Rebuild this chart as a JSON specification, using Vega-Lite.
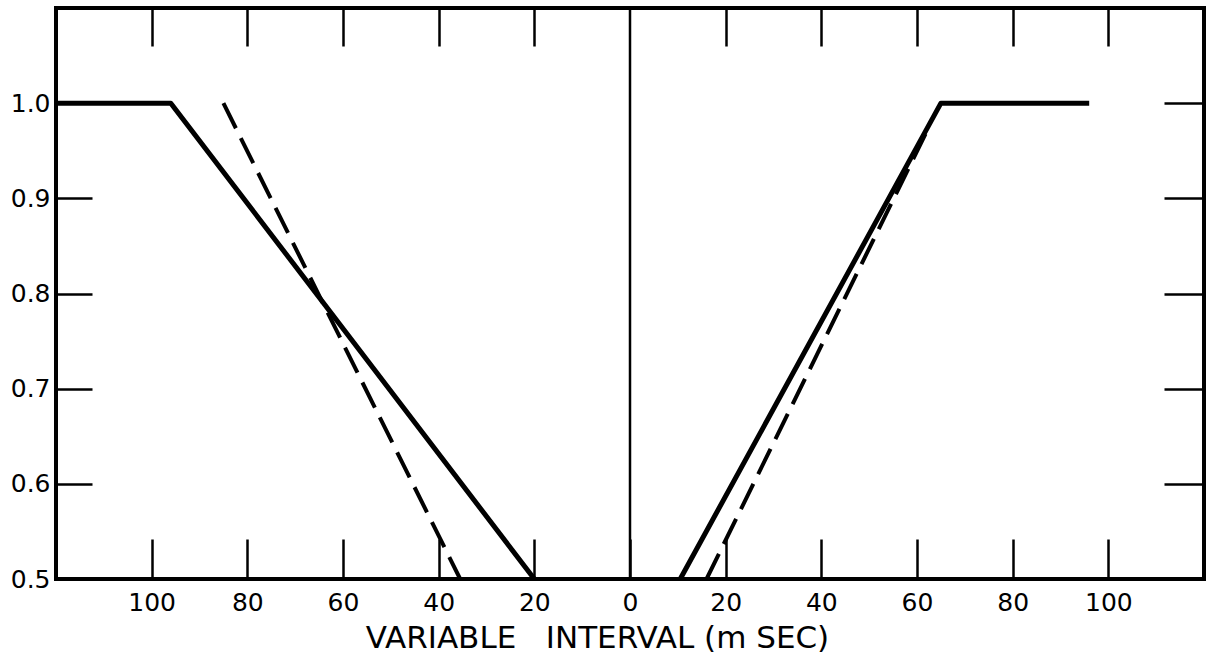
{
  "$schema": "https://vega.github.io/schema/vega-lite/v6.json",
  "width": 1148,
  "height": 571,
  "autosize": {"type": "none"},
  "padding": {"left": 56, "top": 8, "right": 12, "bottom": 76},
  "background": "white",
  "config": {
    "view": {"stroke": "black", "strokeWidth": 4},
    "axis": {
      "grid": false,
      "domain": false,
      "tickColor": "black",
      "tickWidth": 2.5,
      "labelFont": "DejaVu Sans",
      "labelFontSize": 25,
      "labelColor": "black",
      "titleFont": "DejaVu Sans",
      "titleFontSize": 31,
      "titleFontWeight": "normal",
      "titleColor": "black"
    }
  },
  "datasets": {
    "solid": [
      {"side": "left", "x": -120, "y": 1.0},
      {"side": "left", "x": -96, "y": 1.0},
      {"side": "left", "x": -20, "y": 0.5},
      {"side": "right", "x": 10.5, "y": 0.5},
      {"side": "right", "x": 65, "y": 1.0},
      {"side": "right", "x": 96, "y": 1.0}
    ],
    "dashed": [
      {"side": "left", "x": -85, "y": 1.0},
      {"side": "left", "x": -35.5, "y": 0.5},
      {"side": "right", "x": 16, "y": 0.5},
      {"side": "right", "x": 62.5, "y": 0.975}
    ],
    "zero": [{"x": 0}]
  },
  "resolve": {"axis": {"x": "independent", "y": "independent"}},
  "layer": [
    {
      "data": {"name": "zero"},
      "mark": {"type": "rule", "color": "black", "strokeWidth": 2.5},
      "encoding": {
        "x": {"field": "x", "type": "quantitative", "scale": {"domain": [-120, 120], "nice": false, "zero": false}, "axis": null}
      }
    },
    {
      "data": {"name": "solid"},
      "mark": {"type": "line", "color": "black", "strokeWidth": 5, "strokeJoin": "round", "strokeCap": "butt"},
      "encoding": {
        "x": {
          "field": "x", "type": "quantitative",
          "scale": {"domain": [-120, 120], "nice": false, "zero": false},
          "axis": {
            "orient": "bottom",
            "values": [-100, -80, -60, -40, -20, 0, 20, 40, 60, 80, 100],
            "tickSize": -40,
            "labelExpr": "'' + abs(datum.value)",
            "labelPadding": 51,
            "labelBaseline": "top",
            "title": "VARIABLE\u00a0\u00a0\u00a0INTERVAL\u00a0(m\u00a0SEC)",
            "titleX": 541,
            "titleY": 68,
            "titleBaseline": "alphabetic",
            "titleAnchor": "middle"
          }
        },
        "y": {
          "field": "y", "type": "quantitative",
          "scale": {"domain": [0.5, 1.1], "nice": false, "zero": false},
          "axis": {
            "orient": "left",
            "values": [0.5, 0.6, 0.7, 0.8, 0.9, 1.0],
            "tickSize": -36,
            "format": ".1f",
            "labelPadding": 42,
            "title": null
          }
        },
        "detail": {"field": "side"}
      }
    },
    {
      "data": {"name": "dashed"},
      "mark": {"type": "line", "color": "black", "strokeWidth": 4, "strokeDash": [28, 11], "strokeCap": "butt"},
      "encoding": {
        "x": {
          "field": "x", "type": "quantitative",
          "scale": {"domain": [-120, 120], "nice": false, "zero": false},
          "axis": {
            "orient": "top",
            "values": [-100, -80, -60, -40, -20, 20, 40, 60, 80, 100],
            "tickSize": -38,
            "labels": false,
            "title": null
          }
        },
        "y": {
          "field": "y", "type": "quantitative",
          "scale": {"domain": [0.5, 1.1], "nice": false, "zero": false},
          "axis": {
            "orient": "right",
            "values": [0.6, 0.7, 0.8, 0.9, 1.0],
            "tickSize": -40,
            "labels": false,
            "title": null
          }
        },
        "detail": {"field": "side"}
      }
    }
  ]
}
